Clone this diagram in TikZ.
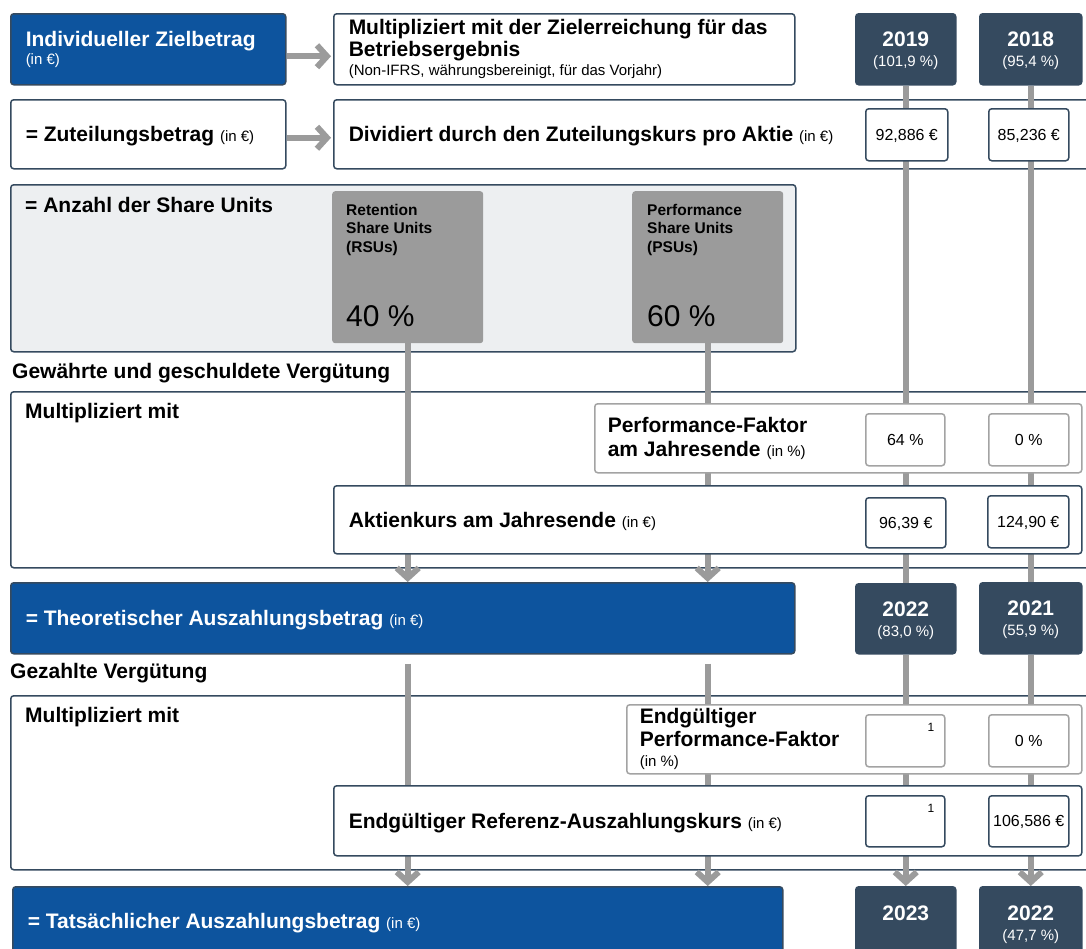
\documentclass[tikz,border=0pt]{standalone}
\usepackage{fontspec}
\setmainfont{Liberation Sans}
\usepackage{xcolor}
\usetikzlibrary{positioning,arrows.meta}

\definecolor{sapblue}{HTML}{0D549E}
\definecolor{slate}{HTML}{354A5F}
\definecolor{flowgray}{HTML}{9B9B9B}
\definecolor{panelgray}{HTML}{EDEFF1}
\definecolor{rimgray}{HTML}{A3A3A3}

\newcommand{\hdfont}{\fontsize{21}{22}\selectfont\bfseries}
\newcommand{\smfont}{\fontsize{15}{18}\selectfont\mdseries}
\newcommand{\cellfont}{\fontsize{16}{19}\selectfont}
\newcommand{\lblfont}{\fontsize{15.5}{18.5}\selectfont\bfseries}
\newcommand{\bigfont}{\fontsize{30}{34}\selectfont}
\newcommand{\notefont}{\fontsize{12}{14}\selectfont}

\begin{document}
\begin{tikzpicture}[x=1pt, y=-1pt,
    boxframe/.style={draw=slate, line width=1.5pt, rounded corners=3pt, fill=white,
        anchor=north west, inner xsep=15pt, inner ysep=0pt, align=flush left, font=\hdfont},
    oneline/.style={text depth=0pt},
    bluebox/.style={boxframe, fill=sapblue, text=white},
    yearbox/.style={boxframe, oneline, fill=slate, text=white, align=flush center, inner xsep=0pt},
    cell/.style={boxframe, oneline, align=flush center, inner xsep=0pt, font=\cellfont},
    softcell/.style={cell, draw=rimgray},
    sharebox/.style={anchor=north west, fill=flowgray, rounded corners=3pt},
    wh/.style 2 args={minimum width=#1pt, minimum height=#2pt},
    txt/.style={inner sep=0pt, align=flush left},
    flow/.style={draw=flowgray, line width=6pt},
    arr/.style={flow, -{Straight Barb[length=10pt, width=22pt]}},
]
\useasboundingbox (0,0) rectangle (1086,948);

% first row
\node[bluebox, wh={275}{71}, text width=245pt] (ziel) at (10,13)
    {Individueller Zielbetrag\\[-4pt]{\smfont (in €)}};
\node[boxframe, wh={461}{71}, text width=431pt] (mult) at (333,13)
    {Multipliziert mit der Zielerreichung für das\\Betriebsergebnis\\[-3pt]{\smfont (Non-IFRS, währungsbereinigt, für das Vorjahr)}};
\node[yearbox, wh={100}{71}] (y19) at (855,13) {2019\\[-2pt]{\smfont (101,9 \%)}};
\node[yearbox, wh={102}{71}] (y18) at (979,13) {2018\\[-2pt]{\smfont (95,4 \%)}};

% second row
\node[boxframe, oneline, wh={275}{69}, text width=245pt] (zut) at (10,99)
    {= Zuteilungsbetrag {\smfont (in €)}};
\node[boxframe, oneline, wh={770}{69}, text width=740pt] (div) at (333,99)
    {Dividiert durch den Zuteilungskurs pro Aktie {\smfont (in €)}};

% share units
\node[boxframe, fill=panelgray, wh={785}{167}] (units) at (10,184) {};
\node[txt, font=\hdfont, below right=13pt and 15pt of units.north west] (unitstxt) {= Anzahl der Share Units};
\node[sharebox, wh={151}{152}] (rsu) at (332,191) {};
\node[sharebox, wh={151}{152}] (psu) at (632,191) {};
\node[txt, font=\lblfont, below right=13pt and 14pt of rsu.north west] (rsutxt) {Retention\\Share Units\\(RSUs)};
\node[txt, font=\lblfont, below right=13pt and 15pt of psu.north west] (psutxt) {Performance\\Share Units\\(PSUs)};
\node[txt, font=\bigfont, anchor=west] (rsupct) at (346,316) {40 \%};
\node[txt, font=\bigfont, anchor=west] (psupct) at (647,316) {60 \%};

% granted and owed
\node[txt, font=\hdfont, anchor=west] (granted) at (12,373) {Gewährte und geschuldete Vergütung};
\node[boxframe, wh={1090}{176}] (mul1) at (10,391) {};
\node[txt, font=\hdfont, below right=12pt and 15pt of mul1.north west] (mul1txt) {Multipliziert mit};

\node[bluebox, oneline, wh={784}{71}, text width=754pt] (theo) at (10,582)
    {= Theoretischer Auszahlungsbetrag {\smfont (in €)}};
\node[yearbox, wh={100}{70}] (y22a) at (855,583) {2022\\[-2pt]{\smfont (83,0 \%)}};
\node[yearbox, wh={102}{71}] (y21) at (979,582) {2021\\[-2pt]{\smfont (55,9 \%)}};

% paid
\node[txt, font=\hdfont, anchor=west] (paid) at (10,673) {Gezahlte Vergütung};
\node[boxframe, wh={1090}{174}] (mul2) at (10,695) {};
\node[txt, font=\hdfont, below right=12pt and 15pt of mul2.north west] (mul2txt) {Multipliziert mit};

\node[bluebox, oneline, wh={770}{68}, text width=740pt] (tats) at (12,886)
    {= Tatsächlicher Auszahlungsbetrag {\smfont (in €)}};
\node[yearbox, wh={100}{72}] (y23) at (855,886) {2023\\[-2pt]{\smfont\phantom{(0)}}};
\node[yearbox, wh={102}{72}] (y22b) at (979,886) {2022\\[-2pt]{\smfont (47,7 \%)}};

% flows
\draw[arr, shorten >=2pt] ([yshift=-7pt]ziel.east) -- ([yshift=-7pt]mult.west);
\draw[arr, shorten >=2pt] ([yshift=-3.5pt]zut.east) -- ([yshift=-3.5pt]div.west);
\draw[flow] (y19) -- (y22a);
\draw[flow] (y18) -- (y21);
\draw[arr] (y22a) -- (y23);
\draw[arr] (y21) -- (y22b);
\draw[arr] (rsu.south) -- (rsu.south |- theo.north);
\draw[arr] (psu.south) -- (psu.south |- theo.north);
\draw[arr, shorten <=9pt] (rsu.south |- theo.south) -- (rsu.south |- tats.north);
\draw[arr, shorten <=9pt] (psu.south |- theo.south) -- (psu.south |- tats.north);

% value cells
\node[cell, wh={82}{52}] (div19) at (865,108) {92,886 €};
\node[cell, wh={80}{52}] (div18) at (988,108) {85,236 €};

\node[boxframe, draw=rimgray, wh={487}{69}, inner xsep=13pt, text width=461pt] (pf) at (594,403)
    {Performance-Faktor\\[2pt]am Jahresende {\smfont (in \%)}};
\node[softcell, wh={79}{52}] (pf19) at (865,413) {64 \%};
\node[softcell, wh={80}{52}] (pf18) at (988,413) {0 \%};

\node[boxframe, oneline, wh={748}{68}, text width=718pt] (akt) at (333,485)
    {Aktienkurs am Jahresende {\smfont (in €)}};
\node[cell, wh={80}{50}] (akt19) at (865,497) {96,39 €};
\node[cell, wh={81}{52}] (akt18) at (987,495) {124,90 €};

\node[boxframe, draw=rimgray, wh={455}{69}, inner xsep=13pt, text width=429pt] (epf) at (626,704)
    {Endgültiger\\[1pt]Performance-Faktor\\[-2pt]{\smfont (in \%)}};
\node[softcell, wh={79}{52}] (epf22) at (865,714) {};
\node[softcell, wh={80}{52}] (epf21) at (988,714) {0 \%};
\node[txt, font=\notefont, below left=9pt and 11pt of epf22.north east] (epfnote) {1};

\node[boxframe, oneline, wh={748}{70}, text width=718pt] (ref) at (333,785)
    {Endgültiger Referenz-Auszahlungskurs {\smfont (in €)}};
\node[cell, wh={79}{51}] (ref22) at (865,795) {};
\node[cell, wh={80}{51}] (ref21) at (988,795) {106,586 €};
\node[txt, font=\notefont, below left=9pt and 11pt of ref22.north east] (refnote) {1};
\end{tikzpicture}
\end{document}
